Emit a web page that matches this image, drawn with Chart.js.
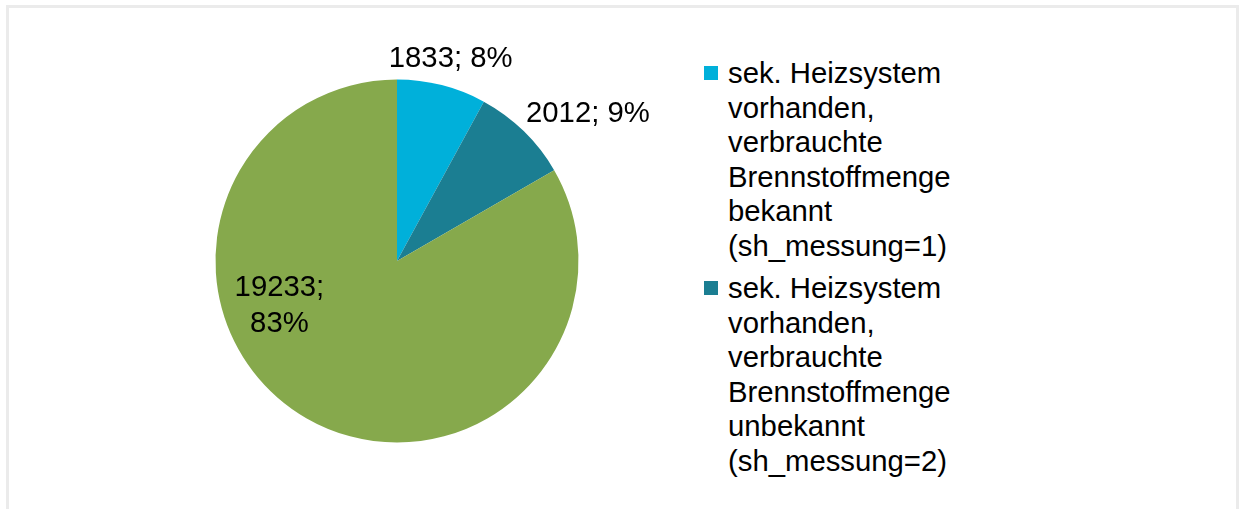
<!DOCTYPE html>
<html>
<head>
<meta charset="utf-8">
<script src="https://cdn.jsdelivr.net/npm/chart.js@4/dist/chart.umd.min.js"></script>
<style>
    html, body { margin: 0; padding: 0; background: #fff; overflow: hidden; }
    body { width: 1243px; height: 509px; position: relative; font-family: "Liberation Sans", Arial, sans-serif; }
    #frame {
        position: absolute; left: 6px; top: 5px; width: 1233px; height: 600px;
        border: 3px solid #ebebeb; box-sizing: border-box;
    }
    #wrap { position: absolute; left: 0; top: 0; width: 700px; height: 509px; }
    #legend { position: absolute; left: 704px; top: 56px; }
    .item { display: flex; align-items: flex-start; margin-bottom: 8px; }
    .box { width: 14px; height: 14px; margin-top: 10px; margin-right: 10px; flex: none; }
    .txt { width: 232px; font-size: 29.3px; line-height: 34.5px; color: #000; }
</style>
</head>
<body>
<div id="frame"></div>
<div id="wrap"><canvas id="pie"></canvas></div>
<div id="legend"></div>
<script>
const categories = [
    'sek. Heizsystem vorhanden, verbrauchte Brennstoffmenge bekannt (sh_messung=1)',
    'sek. Heizsystem vorhanden, verbrauchte Brennstoffmenge unbekannt (sh_messung=2)',
    'kein sek. Heizsystem'
];
const counts = [1833, 2012, 19233];
const colors = ['#00b0da', '#1b7e92', '#86a94c'];
// only the first two entries fit in the legend box
const legendShown = 2;

// label placement: fraction along the slice and radius factor
const labelSpots = [
    { t: 0.52, r: 1.152, lines: 1 },
    { t: 0.758, r: 1.328, lines: 1 },
    { t: 0.63, r: 0.694, lines: 2 }
];

const total = counts.reduce((a, b) => a + b, 0);

const sliceLabels = {
    id: 'sliceLabels',
    afterDatasetsDraw(chart) {
        const ctx = chart.ctx;
        const arcs = chart.getDatasetMeta(0).data;
        ctx.save();
        ctx.font = '29.3px "Liberation Sans", Arial, sans-serif';
        ctx.fillStyle = '#000';
        ctx.textAlign = 'center';
        ctx.textBaseline = 'middle';
        arcs.forEach((arc, i) => {
            const spot = labelSpots[i];
            const a = arc.startAngle + spot.t * (arc.endAngle - arc.startAngle);
            const rad = arc.outerRadius * spot.r;
            const x = arc.x + Math.cos(a) * rad;
            const y = arc.y + Math.sin(a) * rad;
            const pct = Math.round(counts[i] / total * 100) + '%';
            if (spot.lines === 2) {
                ctx.fillText(counts[i] + ';', x, y - 18);
                ctx.fillText(pct, x, y + 18);
            } else {
                ctx.fillText(counts[i] + '; ' + pct, x, y);
            }
        });
        ctx.restore();
    }
};

new Chart(document.getElementById('pie'), {
    type: 'pie',
    data: {
        labels: categories,
        datasets: [{
            data: counts,
            backgroundColor: colors,
            borderWidth: 0
        }]
    },
    options: {
        responsive: true,
        maintainAspectRatio: false,
        animation: false,
        layout: { padding: { left: 215.5, top: 79.5, right: 121.5, bottom: 66.5 } },
        plugins: { legend: { display: false }, tooltip: { enabled: false } }
    },
    plugins: [sliceLabels]
});

// HTML legend so the long labels can wrap
const legend = document.getElementById('legend');
categories.slice(0, legendShown).forEach((name, i) => {
    const item = document.createElement('div');
    item.className = 'item';
    item.innerHTML = `<div class="box" style="background:${colors[i]}"></div><div class="txt">${name}</div>`;
    legend.appendChild(item);
});
</script>
</body>
</html>
